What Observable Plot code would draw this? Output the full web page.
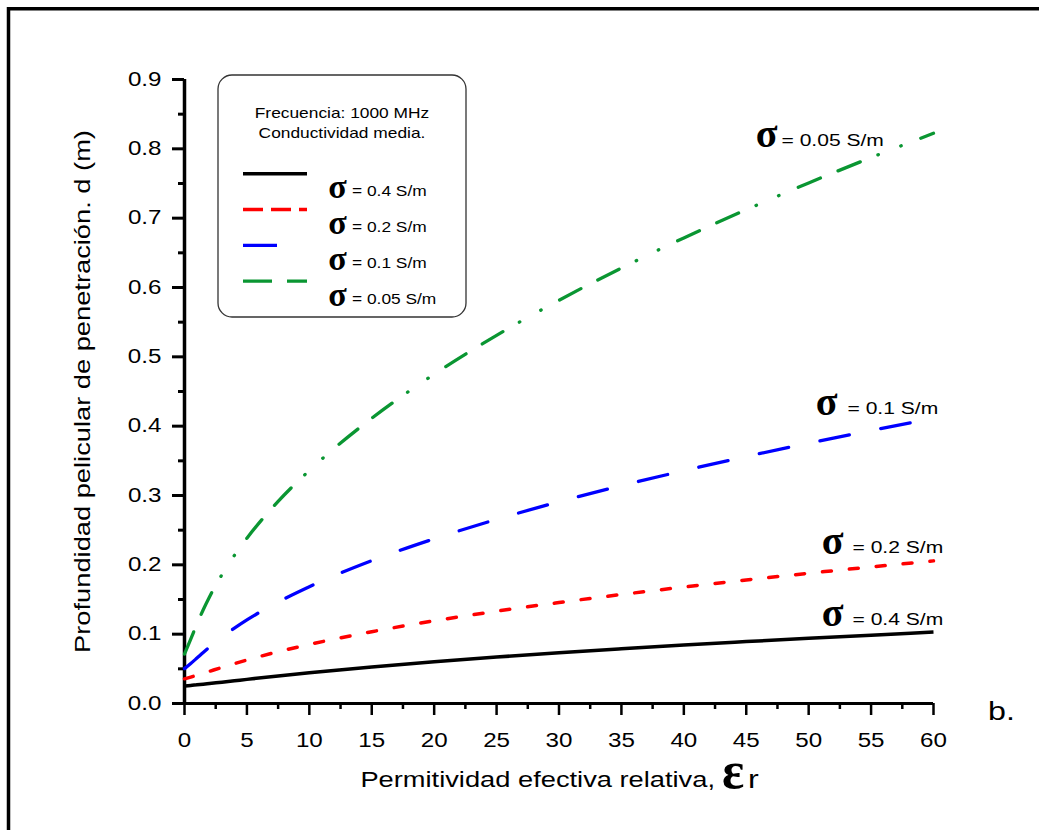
<!DOCTYPE html>
<html>
<head>
<meta charset="utf-8">
<script src="https://cdn.jsdelivr.net/npm/d3@7"></script>
<script src="https://cdn.jsdelivr.net/npm/@observablehq/plot@0.6"></script>
<style>
  html, body { margin: 0; padding: 0; background: #fff; overflow: hidden; }
  #chart svg { display: block; }
</style>
</head>
<body>
<div id="chart"></div>
<script>
// Penetration (skin) depth vs. relative effective permittivity, 1000 MHz, medium conductivity.
const eps = [0, 0.5, 1, 1.5, 2, 3, 4, 5, 7.5, 10, 15, 20, 25, 30, 35, 40, 45, 50, 55, 60];
const depthSigma04  = [0.0252, 0.0260, 0.0270, 0.0279, 0.0289, 0.0308, 0.0328, 0.0348, 0.0397, 0.0443, 0.0528, 0.0603, 0.0670, 0.0732, 0.0789, 0.0843, 0.0893, 0.0941, 0.0986, 0.1030];
const depthSigma02  = [0.0356, 0.0381, 0.0408, 0.0436, 0.0464, 0.0520, 0.0575, 0.0627, 0.0747, 0.0852, 0.1035, 0.1192, 0.1331, 0.1456, 0.1572, 0.1680, 0.1782, 0.1878, 0.1970, 0.2057];
const depthSigma01  = [0.0503, 0.0577, 0.0656, 0.0736, 0.0813, 0.0957, 0.1087, 0.1206, 0.1464, 0.1685, 0.2060, 0.2376, 0.2656, 0.2909, 0.3142, 0.3358, 0.3562, 0.3754, 0.3938, 0.4113];
const depthSigma005 = [0.0712, 0.0928, 0.1150, 0.1353, 0.1537, 0.1859, 0.2137, 0.2384, 0.2915, 0.3361, 0.4114, 0.4749, 0.5310, 0.5816, 0.6281, 0.6715, 0.7122, 0.7508, 0.7874, 0.8224];
const sigmaValues = ["0.4", "0.2", "0.1", "0.05"];

const xTicks = [0, 5, 10, 15, 20, 25, 30, 35, 40, 45, 50, 55, 60];
const xMinorTicks = [2.5, 7.5, 12.5, 17.5, 22.5, 27.5, 32.5, 37.5, 42.5, 47.5, 52.5, 57.5];
const yTicks = [0, 0.1, 0.2, 0.3, 0.4, 0.5, 0.6, 0.7, 0.8, 0.9];
const yMinorTicks = [0.05, 0.15, 0.25, 0.35, 0.45, 0.55, 0.65, 0.75, 0.85];

const legendTitle = ["Frecuencia: 1000 MHz", "Conductividad media."];
const yTitle = "Profundidad pelicular de penetración. d (m)";
const xTitle = "Permitividad efectiva relativa,";
const panelTag = "b.";

// Rows per conductivity
const toRows = (values, sigma) => eps.map((e, i) => ({eps: e, d: values[i], sigma}));
const rows04 = toRows(depthSigma04, sigmaValues[0]);
const rows02 = toRows(depthSigma02, sigmaValues[1]);
const rows01 = toRows(depthSigma01, sigmaValues[2]);
const rows005 = toRows(depthSigma005, sigmaValues[3]);

const SANS = "'Liberation Sans', Arial, Helvetica, sans-serif";
const SERIF = "'Liberation Serif', 'Times New Roman', serif";
const GREEN = "#0a9632";

const styles = [
  {rows: rows04,  stroke: "#000000", strokeWidth: 3.5, strokeDasharray: null, legendDash: null},
  {rows: rows02,  stroke: "#ff0000", strokeWidth: 3.5, strokeDasharray: "9,18", legendDash: "20,8"},
  {rows: rows01,  stroke: "#0000ff", strokeWidth: 3.3, strokeDasharray: "30,32", legendDash: "34,40"},
  {rows: rows005, stroke: GREEN,     strokeWidth: 3.3, strokeDasharray: "24,19,24,19,0.5,24,0.5,21", legendDash: "29,15"}
];

const lineMarks = styles.map(s => Plot.line(s.rows, {
  x: "eps", y: "d", stroke: s.stroke, strokeWidth: s.strokeWidth,
  strokeDasharray: s.strokeDasharray || undefined,
  strokeLinecap: s.strokeDasharray ? "round" : "butt",
  strokeLinejoin: "round",
  curve: "monotone-x"
}));

// Label at the end of a curve: large sigma plus "= value S/m"
function curveLabel(rows, dxSigma, dxText, dy) {
  const last = [rows[rows.length - 1]];
  return [
    Plot.text(last, {x: "eps", y: "d", text: () => "σ", dx: dxSigma, dy: dy + 1,
      fontFamily: SERIF, fontWeight: "bold", fontSize: 40, textAnchor: "middle", lineAnchor: "bottom", fill: "#000"}),
    Plot.text(last, {x: "eps", y: "d", text: d => `= ${d.sigma} S/m`, dx: dxText, dy,
      fontFamily: SANS, fontSize: 17, textAnchor: "start", lineAnchor: "bottom", fill: "#000"})
  ];
}

const plot = Plot.plot({
  width: 1039,
  height: 830,
  marginLeft: 184,
  marginRight: 106,
  marginTop: 79,
  marginBottom: 127,
  style: {fontFamily: SANS, color: "#000", background: "#fff"},
  x: {domain: [0, 60], label: null},
  y: {domain: [0, 0.9], label: null},
  marks: [
    Plot.axisX(xMinorTicks, {tickSize: 6, strokeWidth: 2.5, fill: "none", label: null}),
    Plot.axisX(xTicks, {tickSize: 12, tickPadding: 18, strokeWidth: 2.5, fontSize: 19.5,
      tickFormat: d => String(d), label: null}),
    Plot.axisY(yMinorTicks, {tickSize: 6, strokeWidth: 3, fill: "none", label: null}),
    Plot.axisY(yTicks, {tickSize: 12, tickPadding: 11, strokeWidth: 3, fontSize: 19.5,
      tickFormat: d => d.toFixed(1), label: null}),
    Plot.ruleX([0], {strokeWidth: 3.5}),
    Plot.ruleY([0], {strokeWidth: 3}),
    ...lineMarks,
    ...curveLabel(rows005, -167, -152, 13),
    ...curveLabel(rows01, -107, -86, -4),
    ...curveLabel(rows02, -101, -81, -8),
    ...curveLabel(rows04, -101, -81, -7),
    Plot.text([yTitle], {frameAnchor: "left", dx: -102, rotate: -90, fontSize: 22,
      text: d => d, textAnchor: "middle", lineAnchor: "middle"})
  ]
});

document.getElementById("chart").appendChild(plot);

const svg = d3.select(plot);

// Outer frame (continues past the right and bottom edges)
svg.append("rect")
  .attr("x", 8.5).attr("y", 8.75).attr("width", 1300).attr("height", 1300)
  .attr("fill", "none").attr("stroke", "#000").attr("stroke-width", 3.5);

// Legend box
const lg = svg.append("g");
lg.append("rect")
  .attr("x", 218).attr("y", 75).attr("width", 248).attr("height", 242).attr("rx", 14)
  .attr("fill", "#fff").attr("stroke", "#333").attr("stroke-width", 1.3);
legendTitle.forEach((t, i) => {
  lg.append("text").attr("x", 342).attr("y", 118 + 20 * i)
    .attr("text-anchor", "middle").attr("font-family", SANS).attr("font-size", 14)
    .attr("fill", "#000").text(t);
});
styles.forEach((s, i) => {
  const ly = 173.7 + 35.8 * i;
  lg.append("line").attr("x1", 243).attr("x2", 307).attr("y1", ly).attr("y2", ly)
    .attr("stroke", s.stroke).attr("stroke-width", s.strokeWidth)
    .attr("stroke-dasharray", s.legendDash);
  const by = 196.5 + 36 * i;
  lg.append("text").attr("x", 337.5).attr("y", by + 1.5).attr("text-anchor", "middle")
    .attr("font-family", SERIF).attr("font-weight", "bold").attr("font-size", 34)
    .attr("fill", "#000").text("σ");
  lg.append("text").attr("x", 352).attr("y", by).attr("text-anchor", "start")
    .attr("font-family", SANS).attr("font-size", 14).attr("fill", "#000")
    .text(`= ${sigmaValues[i]} S/m`);
});

// X axis title with epsilon_r
svg.append("text").attr("x", 715).attr("y", 787).attr("text-anchor", "end")
  .attr("font-family", SANS).attr("font-size", 22).attr("fill", "#000").text(xTitle);
svg.append("text").attr("x", 722).attr("y", 788).attr("text-anchor", "start")
  .attr("font-family", SERIF).attr("font-weight", "bold").attr("font-size", 52)
  .attr("fill", "#000").text("ε");
svg.append("text").attr("x", 748).attr("y", 788).attr("text-anchor", "start")
  .attr("font-family", SANS).attr("font-size", 26).attr("fill", "#000").text("r");

// Panel tag
svg.append("text").attr("x", 988).attr("y", 720).attr("text-anchor", "start")
  .attr("font-family", SANS).attr("font-size", 26).attr("fill", "#000").text(panelTag);

// Sans-serif text is set wide along its baseline
const STRETCH = 1.24;
plot.querySelectorAll("text").forEach(el => {
  const cs = getComputedStyle(el);
  const ff = cs.fontFamily || "";
  if (/Serif/i.test(ff) && !/Sans/i.test(ff)) return;
  const bb = el.getBBox();
  const anchor = cs.textAnchor;
  const ax = anchor === "middle" ? bb.x + bb.width / 2 : anchor === "end" ? bb.x + bb.width : bb.x;
  const t = el.getAttribute("transform") || "";
  el.setAttribute("transform", `${t} translate(${ax},0) scale(${STRETCH},1) translate(${-ax},0)`.trim());
});
</script>
</body>
</html>
